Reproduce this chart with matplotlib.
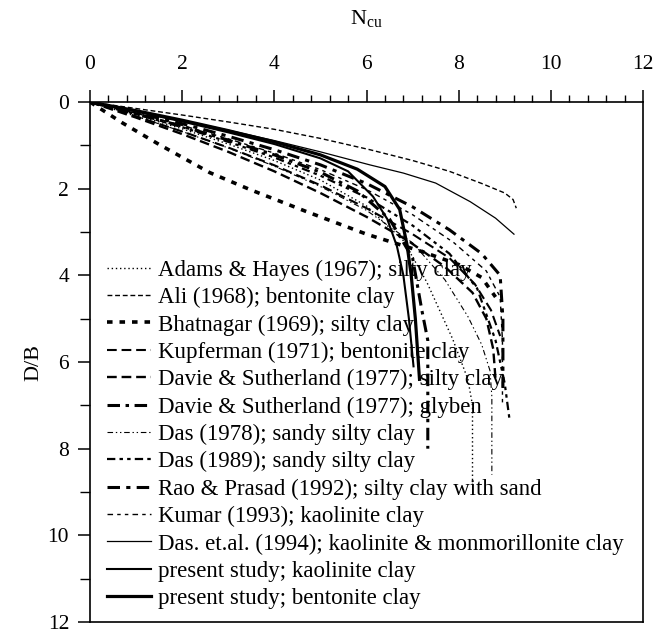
import matplotlib
matplotlib.use('Agg')
import matplotlib.pyplot as plt
from matplotlib.ticker import MultipleLocator

plt.rcParams['font.family'] = ['Liberation Serif', 'DejaVu Serif']
plt.rcParams['mathtext.fontset'] = 'custom'
plt.rcParams['mathtext.rm'] = 'Liberation Serif'
plt.rcParams['lines.scale_dashes'] = False

# breakout factor N_cu against embedment ratio D/B
labels = [
    'Adams & Hayes (1967); silty clay',
    'Ali (1968); bentonite clay',
    'Bhatnagar (1969); silty clay',
    'Kupferman (1971); bentonite clay',
    'Davie & Sutherland (1977); silty clay',
    'Davie & Sutherland (1977); glyben',
    'Das (1978); sandy silty clay',
    'Das (1989); sandy silty clay',
    'Rao & Prasad (1992); silty clay with sand',
    'Kumar (1993); kaolinite clay',
    'Das. et.al. (1994); kaolinite & monmorillonite clay',
    'present study; kaolinite clay',
    'present study; bentonite clay',
]

adams_n = [0, 1, 2, 3, 4, 5, 6, 6.8, 7.31, 7.87, 8.2, 8.3, 8.3]
adams_db = [0, 0.3, 0.62, 0.97, 1.35, 1.8, 2.4, 3.2, 4.16, 5.47, 6.4, 7.0, 8.8]

ali_n = [0, 1, 2, 3, 4, 5, 6.07, 7, 7.8, 8.5, 9.0, 9.18, 9.25]
ali_db = [0, 0.15, 0.3, 0.46, 0.63, 0.84, 1.1, 1.35, 1.6, 1.88, 2.1, 2.25, 2.45]

bhat_n = [0, 0.7, 1.5, 2.6, 3.47, 4.7, 6.0, 7.2, 8.0, 8.5, 8.8]
bhat_db = [0, 0.48, 0.98, 1.63, 2.02, 2.53, 3.05, 3.45, 3.75, 4.05, 4.5]

kupf_n = [0, 1, 2, 3, 4, 5, 6, 7, 7.8, 8.35, 8.7, 8.9]
kupf_db = [0, 0.33, 0.68, 1.05, 1.46, 1.92, 2.45, 3.05, 3.6, 4.2, 4.8, 5.4]

davie_s_n = [0, 1, 2, 3, 4, 5, 6, 6.9, 7.7, 8.3, 8.6, 8.75, 8.8]
davie_s_db = [0, 0.36, 0.74, 1.15, 1.6, 2.1, 2.65, 3.2, 3.8, 4.4, 5.0, 5.7, 6.4]

davie_g_n = [0, 1, 2, 3, 4, 5, 5.8, 6.5, 7.0, 7.2, 7.33, 7.33]
davie_g_db = [0, 0.27, 0.56, 0.88, 1.22, 1.62, 2.05, 2.7, 3.6, 4.8, 5.5, 8.0]

das78_n = [0, 1, 2, 3, 4, 5, 6, 7, 7.7, 8.2, 8.5, 8.68, 8.72, 8.72]
das78_db = [0, 0.33, 0.68, 1.06, 1.48, 1.95, 2.5, 3.25, 4.1, 4.95, 5.6, 6.2, 6.8, 8.6]

das89_n = [0, 1, 2, 3, 4, 5, 6, 7, 7.8, 8.4, 8.8, 9.0, 9.1]
das89_db = [0, 0.28, 0.58, 0.92, 1.28, 1.7, 2.2, 2.85, 3.5, 4.3, 5.5, 6.5, 7.3]

rao_n = [0, 1, 2, 3, 4, 5, 6, 7, 7.8, 8.5, 8.9, 8.96, 8.96]
rao_db = [0, 0.24, 0.5, 0.79, 1.1, 1.45, 1.88, 2.42, 2.95, 3.5, 4.0, 5.0, 6.6]

kumar_n = [0, 1, 2, 3, 4, 5, 6, 7, 7.9, 8.6, 8.9, 8.95, 8.95]
kumar_db = [0, 0.26, 0.54, 0.85, 1.18, 1.56, 2.02, 2.6, 3.25, 3.9, 4.5, 5.5, 7.0]

das94_n = [0, 1, 2, 3, 4, 5, 6.07, 6.8, 7.5, 8.25, 8.8, 9.2]
das94_db = [0, 0.2, 0.42, 0.65, 0.89, 1.15, 1.45, 1.64, 1.87, 2.3, 2.68, 3.05]

kaol_n = [0, 1, 2, 3, 4, 5, 5.6, 6.14, 6.45, 6.66, 6.8, 6.92, 7.02]
kaol_db = [0, 0.22, 0.45, 0.7, 0.97, 1.3, 1.6, 2.18, 2.7, 3.33, 4.0, 5.0, 6.1]

bent_n = [0, 1, 2, 3, 4, 5, 5.8, 6.4, 6.72, 6.88, 6.97, 7.06, 7.15]
bent_db = [0, 0.2, 0.42, 0.66, 0.92, 1.22, 1.55, 1.95, 2.48, 3.3, 4.0, 5.0, 6.4]

curves = [
    (adams_n, adams_db), (ali_n, ali_db), (bhat_n, bhat_db), (kupf_n, kupf_db),
    (davie_s_n, davie_s_db), (davie_g_n, davie_g_db), (das78_n, das78_db),
    (das89_n, das89_db), (rao_n, rao_db), (kumar_n, kumar_db),
    (das94_n, das94_db), (kaol_n, kaol_db), (bent_n, bent_db),
]

# (dash pattern in points, line width); None means solid
styles = [
    ((1, 2), 1.0),
    ((3.5, 2), 1.0),
    ((4, 5), 2.6),
    ((7, 3.5), 1.5),
    ((7, 3.5), 1.7),
    ((9, 4, 2.5, 4), 2.2),
    ((4, 2, 1, 2, 1, 2), 0.8),
    ((6, 3, 2.5, 3, 2.5, 3), 1.6),
    ((9, 4.5, 3, 4.5), 2.2),
    ((4, 3, 2.5, 3, 2.5, 3), 1.0),
    (None, 0.9),
    (None, 1.5),
    (None, 2.3),
]

fig = plt.figure(figsize=(6.56, 6.34), dpi=100)
ax = fig.add_axes([0.1372, 0.0189, 0.8430, 0.8202])

for (n, db), (dash, lw), lab in zip(curves, styles, labels):
    line, = ax.plot(n, db, color='black', linewidth=lw, label=lab)
    if dash is not None:
        line.set_dashes(dash)

ax.set_xlim(0, 12)
ax.set_ylim(12, 0)
ax.xaxis.tick_top()
ax.xaxis.set_label_position('top')
ax.xaxis.set_major_locator(MultipleLocator(2))
ax.xaxis.set_minor_locator(MultipleLocator(0.4))
ax.yaxis.set_major_locator(MultipleLocator(2))
ax.yaxis.set_minor_locator(MultipleLocator(1))
ax.tick_params(axis='x', which='major', direction='out', length=9, width=1.1,
               pad=11, labelsize=15.5)
ax.tick_params(axis='x', which='minor', direction='out', length=5, width=1.0)
ax.tick_params(axis='y', which='major', direction='out', length=9, width=1.1,
               pad=6, labelsize=15.5)
ax.tick_params(axis='y', which='minor', direction='out', length=7, width=1.0)
for sp in ax.spines.values():
    sp.set_linewidth(1.2)

ax.set_xlabel(r'$\mathrm{N_{cu}}$', fontsize=16)
ax.set_ylabel('D/B', fontsize=16)
ax.xaxis.set_label_coords(0.5, 1.15)
ax.yaxis.set_label_coords(-0.085, 0.5)

ax.legend(loc='upper left', bbox_to_anchor=(0.031, 0.697), frameon=False,
          fontsize=16.5, handlelength=1.9, handletextpad=0.33,
          labelspacing=0.27, borderpad=0, borderaxespad=0)

plt.savefig('out.png', dpi=100)
plt.close()
